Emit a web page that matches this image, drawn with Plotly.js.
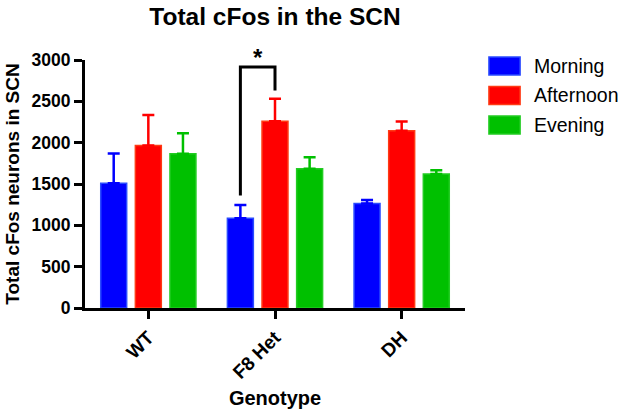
<!DOCTYPE html>
<html>
<head>
<meta charset="utf-8">
<script src="https://cdn.plot.ly/plotly-3.0.1.min.js"></script>
<style>html,body{margin:0;padding:0;background:#fff}#chart{width:629px;height:412px}</style>
</head>
<body>
<div id="chart"></div>
<script>
var genotypes = ["WT", "F8 Het", "DH"];
var seriesNames = ["Morning", "Afternoon", "Evening"];
var morning = [1510, 1085, 1265];
var morningErr = [360, 160, 40];
var afternoon = [1965, 2260, 2145];
var afternoonErr = [370, 270, 110];
var evening = [1865, 1685, 1620];
var eveningErr = [250, 140, 45];
var yTicks = [0, 500, 1000, 1500, 2000, 2500, 3000];
// significance bracket: F8 Het Morning vs Afternoon
var bracketLeftY = 1360;
var bracketTopY = 2915;
var bracketRightY = 2630;
var sigLabel = "*";

var colors = ["#0000FF", "#FF0000", "#00C000"];
var edges = ["#2A4BFF", "#FF3A14", "#22CC22"];
var values = [morning, afternoon, evening];
var errs = [morningErr, afternoonErr, eveningErr];

var FONT = "Liberation Sans, Arial, sans-serif";
var bargap = 0.18, bargroupgap = 0.25;

var traces = values.map(function (v, i) {
  return {
    type: "bar",
    name: seriesNames[i],
    x: genotypes,
    y: v,
    marker: {color: colors[i], line: {color: edges[i], width: 1.5}},
    error_y: {
      type: "data", symmetric: false, array: errs[i],
      arrayminus: v.map(function () { return 0; }),
      color: colors[i], thickness: 2.5, width: 6
    },
    showlegend: false
  };
});

// slot centres within a group (category units)
var slot = (1 - bargap) / 3;
var gi = genotypes.indexOf("F8 Het");
var xL = gi - slot, xR = gi;

var shapes = [{
  type: "path", xref: "x", yref: "y",
  path: "M " + xL + "," + bracketLeftY + " L " + xL + "," + bracketTopY +
        " L " + xR + "," + bracketTopY + " L " + xR + "," + bracketRightY,
  line: {color: "#000", width: 3}
}];
var annotations = [{
  xref: "x", yref: "y", x: (xL + xR) / 2, y: bracketTopY, yanchor: "bottom",
  text: "<b>" + sigLabel + "</b>", showarrow: false,
  font: {family: FONT, size: 24, color: "#000"}, yshift: -6
}];

// custom legend
var legTop = 0.976, legStep = 0.119, swH = 0.0726;
seriesNames.forEach(function (n, i) {
  var yc = legTop - i * legStep;
  shapes.push({
    type: "rect", xref: "paper", yref: "paper",
    x0: 1.063, x1: 1.145, y0: yc - swH / 2, y1: yc + swH / 2,
    fillcolor: colors[i], line: {color: edges[i], width: 1.5}
  });
  annotations.push({
    xref: "paper", yref: "paper", x: 1.176, y: yc, xanchor: "left", yanchor: "middle",
    text: n, showarrow: false, font: {family: FONT, size: 19.5, color: "#000"}
  });
});

var layout = {
  width: 629, height: 412,
  margin: {l: 85, r: 164, t: 60, b: 104},
  paper_bgcolor: "#fff", plot_bgcolor: "#fff",
  barmode: "group", bargap: bargap, bargroupgap: bargroupgap,
  title: {
    text: "<b>Total cFos in the SCN</b>",
    font: {family: FONT, size: 24.5, color: "#000"},
    x: 0.5, xref: "paper", xanchor: "center",
    y: 0.961, yref: "container", yanchor: "middle"
  },
  xaxis: {
    type: "category", range: [-0.5, 2.5],
    showline: true, linecolor: "#000", linewidth: 3,
    ticks: "outside", ticklen: 8, tickwidth: 3, tickcolor: "#000",
    tickangle: -45,
    tickfont: {family: FONT, size: 19, color: "#000", weight: "bold"},
    showgrid: false, zeroline: false,
    title: {text: "<b>Genotype</b>", font: {family: FONT, size: 20, color: "#000"}, standoff: 10}
  },
  yaxis: {
    range: [0, 3000], tickvals: yTicks,
    showline: true, linecolor: "#000", linewidth: 3,
    ticks: "outside", ticklen: 8, tickwidth: 3, tickcolor: "#000",
    tickfont: {family: FONT, size: 17.5, color: "#000", weight: "bold"},
    showgrid: false, zeroline: false,
    title: {text: "<b>Total cFos neurons in SCN</b>", font: {family: FONT, size: 19, color: "#000"}, standoff: 7}
  },
  shapes: shapes,
  annotations: annotations,
  showlegend: false
};

Plotly.newPlot("chart", traces, layout, {displayModeBar: false, staticPlot: true});
</script>
</body>
</html>
